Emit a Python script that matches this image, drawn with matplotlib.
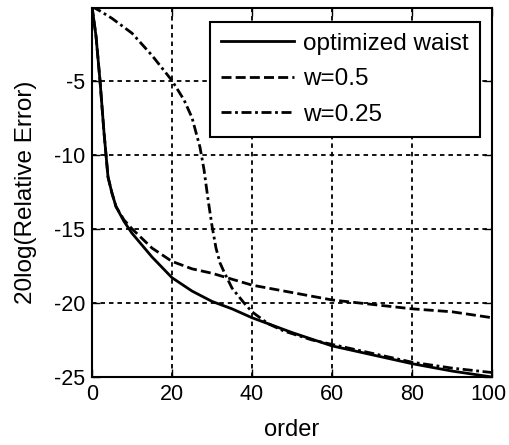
import matplotlib
matplotlib.use("Agg")
import matplotlib.pyplot as plt
from matplotlib.transforms import ScaledTranslation

plt.rcParams['font.family'] = ['Liberation Sans', 'DejaVu Sans']

# optimized waist
order_opt = [0, 1, 2, 3, 4, 5, 6, 8, 10, 15, 20, 25, 30, 35, 40, 45, 50, 60, 70, 80, 90, 100]
err_opt = [0, -2, -5, -8.5, -11.5, -12.6, -13.5, -14.5, -15.3, -16.9, -18.3, -19.2, -19.9,
           -20.4, -21.0, -21.5, -22.0, -22.9, -23.5, -24.1, -24.6, -25.0]

# w = 0.5
order_w05 = [0, 1, 2, 3, 4, 5, 6, 8, 10, 15, 20, 25, 30, 35, 40, 50, 60, 70, 80, 90, 100]
err_w05 = [0, -2, -5, -8.5, -11.5, -12.6, -13.5, -14.4, -15.0, -16.3, -17.2, -17.7, -18.0,
           -18.4, -18.8, -19.3, -19.8, -20.1, -20.4, -20.6, -21.0]

# w = 0.25
order_w025 = [0, 2, 5, 10, 15, 20, 23, 25, 27, 28, 29, 30, 31, 32, 33, 35, 38, 40, 44, 48,
              55, 60, 70, 80, 90, 100]
err_w025 = [0, -0.3, -0.8, -1.8, -3.3, -5.0, -6.3, -7.5, -9.5, -11.0, -13.0, -14.8, -16.3,
            -17.3, -17.9, -19.0, -20.0, -20.6, -21.4, -21.9, -22.5, -22.8, -23.4, -24.0,
            -24.4, -24.7]

labels = ['optimized waist', 'w=0.5', 'w=0.25']
xticks = [0, 20, 40, 60, 80, 100]
yticks = [-25, -20, -15, -10, -5]

FS = 17
TFS = 15.5

fig = plt.figure(figsize=(5.1, 4.45), dpi=100)
ax = fig.add_axes([92/510, 1-377/445, 400/510, 369/445])

lw = 2.0
ax.plot(order_opt, err_opt, color='black', lw=lw, label=labels[0])
ax.plot(order_w05, err_w05, color='black', lw=lw, dashes=(3.6, 1.5), label=labels[1])
ax.plot(order_w025, err_w025, color='black', lw=lw, dashes=(3.6, 1.3, 1.0, 1.3), label=labels[2])

ax.set_xlim(0, 100)
ax.set_ylim(-25, -0.1)
ax.set_xticks(xticks)
ax.set_yticks(yticks)
ax.set_xticklabels([str(t) for t in xticks])
ax.set_yticklabels([str(t) for t in yticks])
ax.tick_params(direction='in', length=6, width=1, top=True, right=True, labelsize=TFS, pad=5)
last = ax.xaxis.get_major_ticks()[-1].label1
last.set_transform(last.get_transform() + ScaledTranslation(-4/100, 0, fig.dpi_scale_trans))
ax.grid(True, color='black', lw=1.3, linestyle=(0, (2.5, 2.2)))
for s in ax.spines.values():
    s.set_linewidth(1.5)

ax.set_xlabel('order', fontsize=FS, labelpad=10)
ax.set_ylabel('20log(Relative Error)', fontsize=FS + 0.5, labelpad=12)

leg = ax.legend(loc='upper right', bbox_to_anchor=(480/510, 1-22/445), bbox_transform=fig.transFigure,
                fontsize=FS + 0.5, frameon=True, fancybox=False, edgecolor='black', framealpha=1,
                handlelength=3.0, handletextpad=0.4, labelspacing=0.55, borderpad=0.45,
                borderaxespad=0)
leg.get_frame().set_linewidth(1.5)

fig.savefig('out.png', dpi=100)
